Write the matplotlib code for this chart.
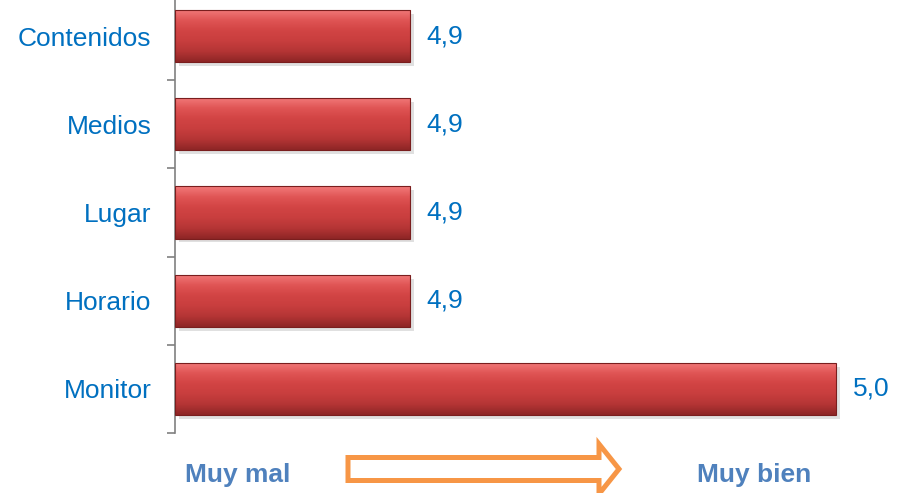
import matplotlib.pyplot as plt
import numpy as np
from matplotlib.patches import FancyArrow
from matplotlib.colors import LinearSegmentedColormap

categories = ["Contenidos", "Medios", "Lugar", "Horario", "Monitor"]
values = [4.9, 4.9, 4.9, 4.9, 5.0]
value_labels = ["4,9", "4,9", "4,9", "4,9", "5,0"]

plt.rcParams['font.family'] = ['Liberation Sans', 'DejaVu Sans']

xmin, xmax = 4.8448, 5.01268

fig = plt.figure(figsize=(9.08, 4.93), dpi=100)
ax = fig.add_axes([175/908, 60/493, 715/908, 441/493])

y = np.arange(len(categories))[::-1]
bars = ax.barh(y, np.array(values) - xmin, height=0.59, left=xmin,
               color="#C94545", edgecolor="#7A1E1E", linewidth=0.8, zorder=3)

# vertical gradient + soft shadow on each bar
cmap = LinearSegmentedColormap.from_list(
    "bar", ["#8E2626", "#B53535", "#C83E3E", "#D24444", "#E05555", "#F27A7A"])
grad = np.linspace(0, 1, 64).reshape(-1, 1)
for b in bars:
    x0, y0, w, h = b.get_x(), b.get_y(), b.get_width(), b.get_height()
    ax.barh(y0 + h/2 - 0.045, w, height=h, left=x0 + 0.0010, color="#000000",
            alpha=0.12, linewidth=0, zorder=2)
    im = ax.imshow(grad, cmap=cmap, aspect="auto", origin="lower",
                   extent=(x0, x0 + w, y0, y0 + h), zorder=3.5)
    im.set_clip_path(b)
    b.set_zorder(4)
    b.set_facecolor("none")

ax.set_xlim(xmin, xmax)
ax.set_ylim(-0.5, 4.5)

for yi, v, lab in zip(y, values, value_labels):
    ax.annotate(lab, (v, yi), xytext=(12, 0), textcoords="offset points",
                va="center", ha="left", fontsize=19, color="#0070C0")

ax.set_yticks(y)
ax.set_yticklabels(categories, fontsize=19, color="#0070C0")
ax.set_yticks(np.arange(-0.5, 4.5, 1.0), minor=True)
ax.tick_params(axis="y", which="major", length=0, pad=17)
ax.tick_params(axis="y", which="minor", length=6, width=1.2, color="#808080")
ax.set_xticks([])
for s in ["top", "right", "bottom"]:
    ax.spines[s].set_visible(False)
ax.spines["left"].set_color("#808080")
ax.spines["left"].set_linewidth(1.2)

fig.text(185/908, 1 - 475/493, "Muy mal", fontsize=19, fontweight="bold",
         color="#4F81BD", ha="left", va="center")
fig.text(697/908, 1 - 475/493, "Muy bien", fontsize=19, fontweight="bold",
         color="#4F81BD", ha="left", va="center")

arrow = FancyArrow(348/908, 1 - 469/493, (619 - 348)/908, 0,
                   width=23/493, head_width=50/493, head_length=20/908,
                   length_includes_head=True, transform=fig.transFigure,
                   facecolor="white", edgecolor="#F79646", linewidth=3.6,
                   joinstyle="miter")
fig.patches.append(arrow)

fig.savefig("out.png", dpi=100)
